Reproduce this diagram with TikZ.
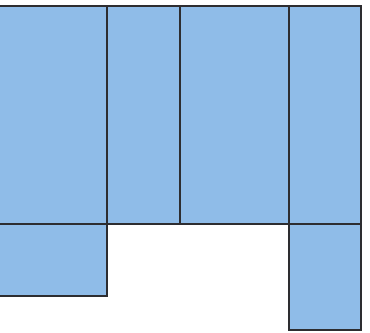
\documentclass[tikz,border=0pt]{standalone}
\usepackage{tikz}
\definecolor{tileblue}{RGB}{143,188,232}
\definecolor{edgegray}{RGB}{45,45,48}
\begin{document}
\begin{tikzpicture}[
  x=0.03cm, y=-0.03cm,
  tile/.style={fill=tileblue, draw=edgegray, line width=0.06cm},
]
\useasboundingbox (0,0) rectangle (370,332);
% top row
\draw[tile] (-5,6)    rectangle (107,224);
\draw[tile] (107,6)   rectangle (180,224);
\draw[tile] (180,6)   rectangle (289,224);
\draw[tile] (289,6)   rectangle (361,224);
% bottom row
\draw[tile] (-5,224)  rectangle (107,296);
\draw[tile] (289,224) rectangle (361,330);
\end{tikzpicture}
\end{document}
